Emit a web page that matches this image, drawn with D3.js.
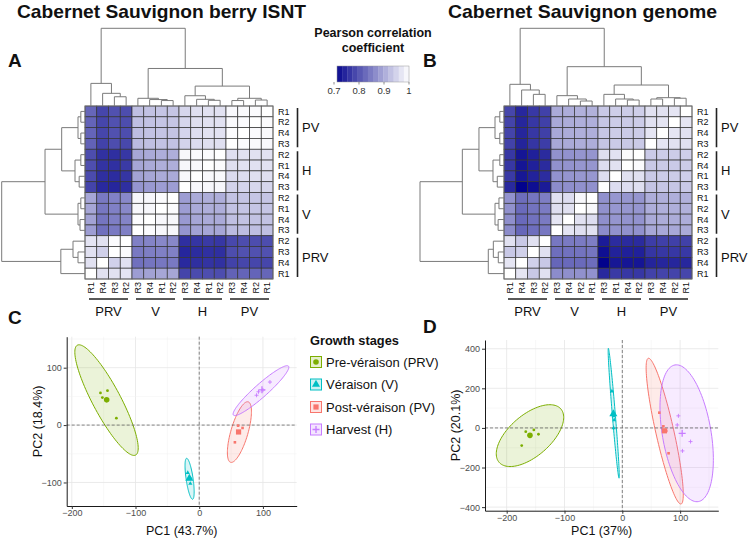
<!DOCTYPE html>
<html><head><meta charset="utf-8">
<script src="https://cdn.jsdelivr.net/npm/d3@7"></script>
<style>
body{margin:0;background:#fff}
svg{display:block}
text{font-family:"Liberation Sans",Arial,Helvetica,sans-serif}
</style>
</head><body>
<svg id="fig" width="749" height="542"></svg>
<script>
// ---------------- DATA ----------------
// sample order: PRV R1..R4, V R1..R4, H R1..R4, PV R1..R4
const sampleStage = ["PRV","PRV","PRV","PRV","V","V","V","V","H","H","H","H","PV","PV","PV","PV"];
const sampleRep   = ["R1","R2","R3","R4","R1","R2","R3","R4","R1","R2","R3","R4","R1","R2","R3","R4"];

// Pearson correlation, berry ISNT
const corrA = [
 [1,.968,.965,.965, .895,.895,.885,.89, .792,.79,.78,.788, .82,.818,.815,.818],
 [.968,1,.995,.965, .86,.86,.85,.855, .768,.765,.755,.762, .79,.79,.785,.79],
 [.965,.995,1,.945, .85,.852,.842,.848, .757,.755,.745,.752, .795,.795,.79,.795],
 [.965,.965,.945,1, .84,.842,.832,.838, .76,.758,.748,.755, .782,.782,.778,.782],
 [.895,.86,.85,.84, 1,.995,.99,.99, .905,.905,.885,.9, .932,.932,.928,.93],
 [.895,.86,.852,.842, .995,1,.99,.99, .905,.905,.885,.9, .932,.932,.928,.93],
 [.885,.85,.842,.832, .99,.99,1,.995, .895,.895,.875,.89, .925,.925,.92,.922],
 [.89,.855,.848,.838, .99,.99,.995,1, .9,.9,.88,.895, .928,.928,.925,.928],
 [.792,.768,.757,.76, .905,.905,.895,.9, 1,.995,.99,.993, .965,.965,.962,.965],
 [.79,.765,.755,.758, .905,.905,.895,.9, .995,1,.99,.993, .965,.965,.962,.965],
 [.78,.755,.745,.748, .885,.885,.875,.88, .99,.99,1,.99, .952,.952,.948,.95],
 [.788,.762,.752,.755, .9,.9,.89,.895, .993,.993,.99,1, .962,.962,.958,.96],
 [.82,.79,.795,.782, .932,.932,.925,.928, .965,.965,.952,.962, 1,.995,.992,.993],
 [.818,.79,.795,.782, .932,.932,.925,.928, .965,.965,.952,.962, .995,1,.993,.994],
 [.815,.785,.79,.778, .928,.928,.92,.925, .962,.962,.948,.958, .992,.993,1,.995],
 [.818,.79,.795,.782, .93,.93,.922,.928, .965,.965,.95,.96, .993,.994,.995,1]
];
// Pearson correlation, genome
const corrB = [
 [1,.965,.935,.97, .872,.87,.865,.868, .768,.765,.748,.765, .782,.78,.778,.78],
 [.965,1,.965,.935, .848,.845,.84,.843, .752,.75,.732,.75, .776,.775,.772,.775],
 [.935,.965,1,.945, .838,.835,.83,.833, .74,.738,.718,.738, .766,.765,.762,.765],
 [.97,.935,.945,1, .828,.825,.82,.823, .727,.725,.702,.725, .746,.745,.742,.745],
 [.872,.848,.838,.828, 1,.99,.965,.96, .878,.875,.87,.876, .908,.906,.904,.906],
 [.87,.845,.835,.825, .99,1,.962,.965, .878,.875,.87,.876, .908,.906,.904,.906],
 [.865,.84,.83,.82, .965,.962,1,.97, .872,.87,.865,.87, .9,.898,.896,.898],
 [.868,.843,.833,.823, .96,.965,.97,1, .875,.872,.868,.873, .904,.902,.9,.902],
 [.768,.752,.74,.727, .878,.878,.872,.875, 1,.965,.96,.965, .942,.94,.938,.94],
 [.765,.75,.738,.725, .875,.875,.87,.872, .965,1,.962,.995, .942,.94,.938,.94],
 [.748,.732,.718,.702, .87,.87,.865,.868, .96,.962,1,.96, .935,.933,.93,.933],
 [.765,.75,.738,.725, .876,.876,.87,.873, .965,.995,.96,1, .94,.938,.936,.938],
 [.782,.776,.766,.746, .908,.908,.9,.904, .942,.942,.935,.94, 1,.97,.965,.965],
 [.78,.775,.765,.745, .906,.906,.898,.902, .94,.94,.933,.938, .97,1,.965,.97],
 [.778,.772,.762,.742, .904,.904,.896,.9, .938,.938,.93,.936, .965,.965,1,.97],
 [.78,.775,.765,.745, .906,.906,.898,.902, .94,.94,.933,.938, .965,.97,.97,1]
];
const rowOrderA = [12,13,15,14, 9,8,11,10, 5,4,7,6, 1,2,3,0];
const colOrderA = [0,3,2,1, 6,7,4,5, 10,11,8,9, 14,15,13,12];
const rowOrderB = [12,13,15,14, 9,11,8,10, 4,5,7,6, 1,2,3,0];
const colOrderB = [0,3,2,1, 6,7,5,4, 10,8,11,9, 14,15,13,12];
// dendrograms: [height (root = 1), left, right]; leaves = display position
const colDendroA = [1,[.291,0,[.163,1,[.119,2,3]]],[.483,[.099,4,[.083,5,[.07,6,7]]],[.256,[.132,8,[.086,9,[.073,10,11]]],[.099,[.07,12,13],[.077,14,15]]]]];
const rowDendroA = [1,[.48,[.28,[.084,[.05,0,1],[.05,2,3]],[.12,[.05,4,5],[.07,6,7]]],[.084,[.05,8,9],[.06,10,11]]],[.29,[.144,12,[.084,13,14]],15]];
const colDendroB = [1,[.279,0,[.206,1,[.15,2,3]]],[.506,[.133,4,[.09,5,[.064,6,7]]],[.27,[.15,8,[.09,9,[.077,10,11]]],[.107,[.09,12,13],[.1,14,15]]]]];
const rowDendroB = [1,[.496,[.298,[.107,[.05,0,1],[.05,2,3]],[.131,[.05,4,5],[.08,6,7]]],[.107,[.06,8,9],[.07,10,11]]],[.187,[.127,12,[.068,13,14]],15]];
const legendTicks = [0.7, 0.8, 0.9, 1];

// PCA
const stageKeys   = ["PRV","V","PV","H"];
const stageLabels = ["Pre-véraison (PRV)","Véraison (V)","Post-véraison (PV)","Harvest (H)"];
const pcaC = {
  PRV: [[-155,56],[-152,48],[-144,60],[-130,12]],
  V:   [[-18,-83],[-14,-92],[-16,-94],[-14,-102]],
  PV:  [[68,-5],[56,-30],[62,-12],[61,-1]],
  H:   [[90,52],[93,58],[100,61],[111,75]]
};
const pcaD = {
  PRV: [[-174,-89],[-167,-19],[-153,-10],[-145,-32]],
  V:   [[-18,185],[-15,60],[-14,40],[-15,0]],
  PV:  [[64,77],[71,8],[76,-15],[80,-128]],
  H:   [[97,61],[95,15],[118,-69],[104,-116]]
};
// ellipses: center, major half-axis vector, minor half-axis vector (data units)
const ellC = {
  PRV: {c:[-145.5,43.5], u:[45.8,-95.7], v:[19.4,11.5]},
  V:   {c:[-15.1,-93.6], u:[4.7,-35.7],  v:[5.4,0.9]},
  PV:  {c:[63.1,-12.2],  u:[-13.8,-52.7],v:[12.9,-4.2]},
  H:   {c:[96.9,60],     u:[43.2,42.6],  v:[6.8,-8.5]}
};
const ellD = {
  PRV: {c:[-159.7,-38.9], u:[53.4,134.8], v:[23.4,-78.8]},
  V:   {c:[-14.9,74.2],   u:[9.26,-328],  v:[2.6,0.6]},
  PV:  {c:[73.3,-16.2],   u:[28.3,-367.9],v:[15.2,10.1]},
  H:   {c:[111.3,-27],    u:[-20.2,345],  v:[41.5,20.7]}
};
const xTicksC = [-200,-100,0,100], yTicksC = [-100,0,100];
const xTicksD = [-200,-100,0,100], yTicksD = [-400,-200,0,200,400];

// ---------------- DRAWING ----------------
const svg = d3.select("#fig");
const stageColor = {PRV:"#7CAE00", V:"#00BFC4", PV:"#F8766D", H:"#C77CFF"};
const heat = d3.scaleLinear().domain([0.7,1]).range(["#00008b","#ffffff"]).clamp(true);

function txt(x,y,s,opts={}){
  const t = svg.append("text").attr("x",x).attr("y",y).text(s)
    .attr("font-size",opts.size||12).attr("fill",opts.fill||"#111");
  if(opts.bold) t.attr("font-weight","bold");
  if(opts.anchor) t.attr("text-anchor",opts.anchor);
  if(opts.tl) t.attr("textLength",opts.tl).attr("lengthAdjust","spacingAndGlyphs");
  return t;
}

function runs(order){
  const out=[]; order.forEach((s,i)=>{
    const st=sampleStage[s];
    if(out.length && out[out.length-1].st===st) out[out.length-1].end=i;
    else out.push({st,start:i,end:i});
  }); return out;
}

function drawDendro(g, tree, posScale, hScale, orient){
  function rec(node){
    if(typeof node==="number") return {p: posScale(node)+posScale.bandwidth()/2, h:0};
    const [h,l,r]=node; const a=rec(l), b=rec(r);
    let d;
    if(orient==="col") d=`M${a.p},${hScale(a.h)}V${hScale(h)}H${b.p}V${hScale(b.h)}`;
    else d=`M${hScale(a.h)},${a.p}H${hScale(h)}V${b.p}H${hScale(b.h)}`;
    g.append("path").attr("d",d).attr("fill","none").attr("stroke","#7a7a7a").attr("stroke-width",1);
    return {p:(a.p+b.p)/2, h};
  }
  rec(tree);
}

function drawHeatmap(cfg){
  const {corr,rowOrder,colOrder,rowDendro,colDendro,x0,x1,y0,y1,rowRootX,colRootY} = cfg;
  const xb = d3.scaleBand().domain(d3.range(16)).range([x0,x1]);
  const yb = d3.scaleBand().domain(d3.range(16)).range([y0,y1]);
  const g = svg.append("g");
  const cells=[];
  rowOrder.forEach((ri,i)=>colOrder.forEach((ci,j)=>cells.push({i,j,v:corr[ri][ci]})));
  g.selectAll("rect.cell").data(cells).join("rect")
    .attr("x",d=>xb(d.j)).attr("y",d=>yb(d.i))
    .attr("width",xb.bandwidth()).attr("height",yb.bandwidth())
    .attr("fill",d=>heat(d.v)).attr("stroke","#333").attr("stroke-width",0.7);
  g.append("rect").attr("x",x0).attr("y",y0).attr("width",x1-x0).attr("height",y1-y0)
    .attr("fill","none").attr("stroke","#777").attr("stroke-width",0.8);
  drawDendro(g, colDendro, xb, d3.scaleLinear().domain([0,1]).range([y0,colRootY]), "col");
  drawDendro(g, rowDendro, yb, d3.scaleLinear().domain([0,1]).range([x0,rowRootX]), "row");
  rowOrder.forEach((s,i)=>{
    txt(x1+5, yb(i)+yb.bandwidth()/2, sampleRep[s], {size:9}).attr("dy","0.35em");
  });
  runs(rowOrder).forEach(r=>{
    const ya=yb(r.start)+2, yz=yb(r.end)+yb.bandwidth()-2;
    g.append("line").attr("x1",x1+24.5).attr("x2",x1+24.5).attr("y1",ya).attr("y2",yz)
      .attr("stroke","#222").attr("stroke-width",1.6);
    txt(x1+29,(ya+yz)/2,r.st,{size:13}).attr("dy","0.35em");
  });
  colOrder.forEach((s,j)=>{
    const cx = xb(j)+xb.bandwidth()/2, cy = y1+3;
    txt(0,0,sampleRep[s],{size:9,anchor:"end"}).attr("dy","0.35em")
      .attr("transform",`translate(${cx},${cy}) rotate(-90)`);
  });
  runs(colOrder).forEach(r=>{
    const xa=xb(r.start)+4, xz=xb(r.end)+xb.bandwidth()-4;
    g.append("line").attr("x1",xa).attr("x2",xz).attr("y1",y1+20).attr("y2",y1+20)
      .attr("stroke","#222").attr("stroke-width",1.6);
    txt((xa+xz)/2, y1+37, r.st, {size:13, anchor:"middle"});
  });
}

drawHeatmap({corr:corrA,rowOrder:rowOrderA,colOrder:colOrderA,rowDendro:rowDendroA,colDendro:colDendroA,
  x0:85,x1:273,y0:106,y1:279,rowRootX:1.7,colRootY:28.3});
drawHeatmap({corr:corrB,rowOrder:rowOrderB,colOrder:colOrderB,rowDendro:rowDendroB,colDendro:colDendroB,
  x0:504,x1:692,y0:106,y1:279,rowRootX:420,colRootY:28.3});

// titles & panel letters
txt(17,17.5,"Cabernet Sauvignon berry ISNT",{size:18.5,bold:true,tl:289});
txt(448,17.5,"Cabernet Sauvignon genome",{size:18.5,bold:true,tl:269});
txt(8,66.5,"A",{size:19,bold:true});
txt(423,66.5,"B",{size:19,bold:true});
txt(8,324,"C",{size:19,bold:true});
txt(423,333,"D",{size:19,bold:true});

// colour legend
txt(373,36.5,"Pearson correlation",{size:12.5,bold:true,anchor:"middle"});
txt(373,52.3,"coefficient",{size:12.5,bold:true,anchor:"middle"});
const legX = d3.scaleLinear().domain([0.7,1]).range([334,409]);
const nBands = 14, vLo = legX.invert(337), vHi = 1;
const bandVals = d3.range(nBands).map(k=>vLo+(vHi-vLo)*k/nBands);
svg.append("g").selectAll("rect").data(bandVals).join("rect")
  .attr("x",d=>legX(d)).attr("y",66).attr("width",legX(vLo+(vHi-vLo)/nBands)-legX(vLo)+0.3).attr("height",16)
  .attr("fill",d=>heat(d+(vHi-vLo)/nBands/2));
svg.append("rect").attr("x",legX(vLo)).attr("y",66).attr("width",legX(vHi)-legX(vLo)).attr("height",16)
  .attr("fill","none").attr("stroke","#999").attr("stroke-width",0.5);
legendTicks.forEach(t=>{
  svg.append("line").attr("x1",legX(t)).attr("x2",legX(t)).attr("y1",82).attr("y2",84.5).attr("stroke","#444").attr("stroke-width",0.6);
  txt(legX(t),93.5,String(t),{size:9.5,anchor:"middle",fill:"#333"});
});

// ---------------- PCA ----------------
function drawMark(g,key,x,y,big){
  const col=stageColor[key];
  if(key==="H"){
    const s=big?3.5:2;
    g.append("path").attr("d",`M${x-s},${y}H${x+s}M${x},${y-s}V${y+s}`).attr("stroke",col).attr("stroke-width",big?1.3:0.9).attr("fill","none");
  } else if(key==="V"){
    g.append("path").attr("d",d3.symbol(d3.symbolTriangle, big?28:8)()).attr("transform",`translate(${x},${y})`).attr("fill",col);
  } else if(key==="PRV"){
    g.append("circle").attr("cx",x).attr("cy",y).attr("r",big?2.8:1.4).attr("fill",col);
  } else {
    const s=big?2.6:1.3;
    g.append("rect").attr("x",x-s).attr("y",y-s).attr("width",2*s).attr("height",2*s).attr("fill",col);
  }
}

function drawPCA(cfg){
  const {x0,x1,y0,y1,xDom,yDom,xTicks,yTicks,xStep,yStep,pts,ell,xTitle,yTitle,yTitleX} = cfg;
  const x=d3.scaleLinear().domain(xDom).range([x0,x1]);
  const y=d3.scaleLinear().domain(yDom).range([y1,y0]);
  const g=svg.append("g");
  const xg=d3.range(Math.ceil(xDom[0]/xStep)*xStep, xDom[1]+1e-9, xStep);
  const yg=d3.range(Math.ceil(yDom[0]/yStep)*yStep, yDom[1]+1e-9, yStep);
  xg.forEach(v=>g.append("line").attr("x1",x(v)).attr("x2",x(v)).attr("y1",y0).attr("y2",y1)
    .attr("stroke",xTicks.includes(v)?"#e6e6e6":"#f1f1f1").attr("stroke-width",xTicks.includes(v)?0.8:0.5));
  yg.forEach(v=>g.append("line").attr("y1",y(v)).attr("y2",y(v)).attr("x1",x0).attr("x2",x1)
    .attr("stroke",yTicks.includes(v)?"#e6e6e6":"#f1f1f1").attr("stroke-width",yTicks.includes(v)?0.8:0.5));
  const line=d3.line().curve(d3.curveLinearClosed);
  stageKeys.forEach(k=>{
    const e=ell[k];
    const ps=d3.range(0,360,3).map(a=>{const t=a*Math.PI/180;
      return [x(e.c[0]+e.u[0]*Math.cos(t)+e.v[0]*Math.sin(t)), y(e.c[1]+e.u[1]*Math.cos(t)+e.v[1]*Math.sin(t))];});
    g.append("path").attr("d",line(ps)).attr("fill",stageColor[k]).attr("fill-opacity",0.15)
      .attr("stroke",stageColor[k]).attr("stroke-width",1);
  });
  g.append("line").attr("x1",x(0)).attr("x2",x(0)).attr("y1",y0).attr("y2",y1).attr("stroke","#555").attr("stroke-width",0.7).attr("stroke-dasharray","3,2");
  g.append("line").attr("x1",x0).attr("x2",x1).attr("y1",y(0)).attr("y2",y(0)).attr("stroke","#555").attr("stroke-width",0.7).attr("stroke-dasharray","3,2");
  stageKeys.forEach(k=>{
    pts[k].forEach(p=>drawMark(g,k,x(p[0]),y(p[1]),false));
    drawMark(g,k,x(d3.mean(pts[k],p=>p[0])),y(d3.mean(pts[k],p=>p[1])),true);
  });
  const ax=g.append("g").attr("transform",`translate(0,${y1})`).call(d3.axisBottom(x).tickValues(xTicks).tickSize(3).tickSizeOuter(0).tickPadding(1));
  const ay=g.append("g").attr("transform",`translate(${x0},0)`).call(d3.axisLeft(y).tickValues(yTicks).tickSize(3).tickSizeOuter(0).tickPadding(2));
  [ax,ay].forEach(a=>{
    a.select(".domain").attr("stroke","#000").attr("stroke-width",0.9);
    a.selectAll(".tick line").attr("stroke","#333");
    a.selectAll(".tick text").attr("font-size",9).attr("fill","#4d4d4d").attr("font-family",'"Liberation Sans",Arial,sans-serif');
  });
  txt((x0+x1)/2, 535, xTitle, {size:12.5, anchor:"middle"});
  txt(0,0,yTitle,{size:12.5,anchor:"middle"}).attr("transform",`translate(${yTitleX},${(y0+y1)/2}) rotate(-90)`);
}

drawPCA({x0:66.7,x1:296.7,y0:336.7,y1:506,xDom:[-208,153],yDom:[-141,154],
  xTicks:xTicksC,yTicks:yTicksC,xStep:50,yStep:50,pts:pcaC,ell:ellC,
  xTitle:"PC1 (43.7%)",yTitle:"PC2 (18.4%)",yTitleX:41.5});
drawPCA({x0:485,x1:718.3,y0:340,y1:510.7,xDom:[-237.5,166],yDom:[-418,444],
  xTicks:xTicksD,yTicks:yTicksD,xStep:50,yStep:100,pts:pcaD,ell:ellD,
  xTitle:"PC1 (37%)",yTitle:"PC2 (20.1%)",yTitleX:459.5});

// growth-stage legend
txt(310,345,"Growth stages",{size:12.8,bold:true});
const legY = d3.scalePoint().domain(stageKeys).range([362,429.5]);
stageKeys.forEach((k,i)=>{
  const cy=legY(k);
  svg.append("rect").attr("x",310.5).attr("y",cy-5.5).attr("width",11).attr("height",11)
    .attr("fill",stageColor[k]).attr("fill-opacity",0.2).attr("stroke",stageColor[k]).attr("stroke-width",1);
  drawMark(svg,k,316,cy,true);
  txt(326,cy,stageLabels[i],{size:13}).attr("dy","0.35em");
});
</script>
</body></html>
